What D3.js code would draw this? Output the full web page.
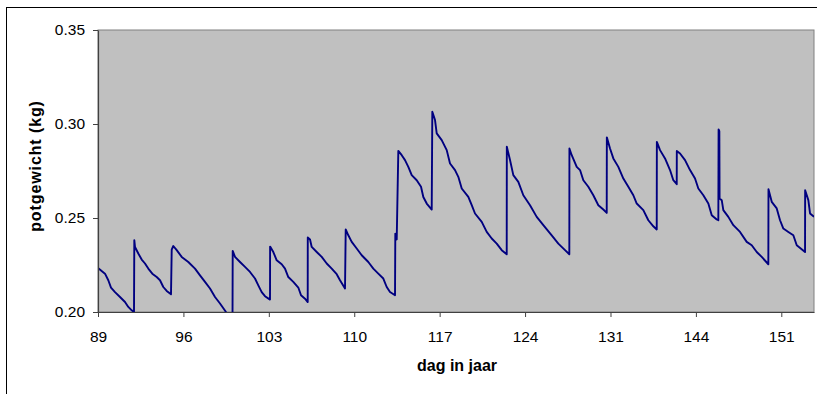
<!DOCTYPE html>
<html>
<head>
<meta charset="utf-8">
<script src="https://cdn.jsdelivr.net/npm/d3@7/dist/d3.min.js"></script>
<style>
  html, body { margin: 0; padding: 0; background: #ffffff; }
  svg { display: block; font-family: "Liberation Sans", Arial, sans-serif; }
</style>
</head>
<body>
<svg id="chart" width="817" height="394"></svg>
<script>
// plotted position along the category axis (arbitrary sample units), and pot weight (kg)
const dayPos = [
  0, 0.561, 0.826, 1.042, 1.363, 1.764, 2.165, 2.430, 2.702, 2.887,
  2.911, 2.967, 3.231, 3.504, 3.769, 4.033, 4.354, 4.707, 4.972, 5.236, 5.509, 5.854,
  5.910, 6.038, 6.311, 6.712, 7.241, 7.778, 8.179, 8.580, 8.981, 9.382, 9.783, 10.264, 10.585, 10.785,
  10.801, 10.986, 11.386, 11.787, 12.188, 12.589, 12.854, 13.126, 13.391, 13.792,
  13.80, 14.057, 14.329, 14.730, 14.995, 15.259, 15.660, 16.061, 16.278, 16.598, 16.815,
  16.82, 17.000, 17.136, 17.537, 17.938, 18.339, 18.740, 19.140, 19.405, 19.806,
  19.862, 20.071, 20.343, 20.744, 21.145, 21.674, 22.075, 22.476, 22.877, 23.150, 23.414, 23.815,
  23.839, 23.951,
  24.080, 24.353, 24.617, 24.882, 25.154, 25.555, 25.900, 26.085, 26.357, 26.758,
  26.806, 27.023, 27.159, 27.560, 27.961, 28.226, 28.627, 28.891, 29.164, 29.693, 29.966, 30.230, 30.768, 31.168, 31.569, 31.970, 32.371, 32.772,
  32.78, 33.036, 33.301, 33.702, 34.103, 34.640, 35.177, 35.707, 36.380, 36.910, 37.447, 37.792,
  37.80, 37.984, 38.385, 38.650, 38.915, 39.315, 39.716, 40.117, 40.518, 40.791,
  40.80, 41.055, 41.320, 41.721, 42.122, 42.523, 42.924, 43.196, 43.725, 44.126, 44.527, 44.800,
  44.81, 45.065, 45.465, 45.866, 46.131, 46.404,
  46.41, 46.669, 47.069, 47.470, 47.871, 48.136, 48.537, 48.938, 49.210, 49.611, 49.739,
  49.76, 49.82, 49.84, 50.012, 50.140, 50.541, 50.942, 51.479, 52.016, 52.417, 52.818, 53.219, 53.749,
  53.76, 54.021, 54.422, 54.687, 54.952, 55.352, 55.753, 56.026, 56.692,
  56.70, 56.956, 57.092, 57.413
];
const potWeight = [
  0.2234, 0.2204, 0.2169, 0.2130, 0.2106, 0.2080, 0.2053, 0.2027, 0.2009, 0.2000,
  0.2382, 0.2346, 0.2311, 0.2279, 0.2258, 0.2231, 0.2204, 0.2186, 0.2169, 0.2133, 0.2112, 0.2094,
  0.2332, 0.2351, 0.2329, 0.2293, 0.2266, 0.2231, 0.2195, 0.2160, 0.2125, 0.2080, 0.2045, 0.2000, 0.1975, 0.1960,
  0.2325, 0.2293, 0.2266, 0.2240, 0.2213, 0.2178, 0.2142, 0.2106, 0.2084, 0.2066,
  0.2348, 0.2319, 0.2275, 0.2254, 0.2231, 0.2186, 0.2160, 0.2130, 0.2089, 0.2071, 0.2053,
  0.2396, 0.2386, 0.2346, 0.2319, 0.2293, 0.2258, 0.2231, 0.2201, 0.2169, 0.2125,
  0.2439, 0.2408, 0.2373, 0.2338, 0.2302, 0.2266, 0.2231, 0.2204, 0.2178, 0.2133, 0.2106, 0.2089,
  0.2417, 0.2386,
  0.2857, 0.2834, 0.2808, 0.2772, 0.2728, 0.2701, 0.2666, 0.2612, 0.2577, 0.2545,
  0.3065, 0.3021, 0.2950, 0.2914, 0.2861, 0.2790, 0.2755, 0.2719, 0.2657, 0.2612, 0.2568, 0.2524, 0.2479, 0.2426, 0.2391, 0.2364, 0.2329, 0.2307,
  0.2879, 0.2808, 0.2728, 0.2692, 0.2621, 0.2568, 0.2506, 0.2462, 0.2408, 0.2364, 0.2329, 0.2307,
  0.2870, 0.2834, 0.2772, 0.2755, 0.2701, 0.2666, 0.2621, 0.2568, 0.2545, 0.2527,
  0.2929, 0.2870, 0.2817, 0.2772, 0.2710, 0.2666, 0.2621, 0.2577, 0.2542, 0.2488, 0.2456, 0.2439,
  0.2905, 0.2861, 0.2817, 0.2755, 0.2701, 0.2680,
  0.2856, 0.2843, 0.2808, 0.2755, 0.2710, 0.2657, 0.2621, 0.2577, 0.2515, 0.2492, 0.2488,
  0.2971, 0.2962, 0.2604, 0.2595, 0.2542, 0.2506, 0.2462, 0.2426, 0.2373, 0.2355, 0.2319, 0.2293, 0.2254,
  0.2653, 0.2586, 0.2551, 0.2488, 0.2444, 0.2426, 0.2408, 0.2355, 0.2319,
  0.2648, 0.2595, 0.2524, 0.2506
];
// category positions of the labelled ticks (same units as dayPos)
const xTickPos = [0, 6.849, 13.697, 20.546, 27.394, 34.243, 41.092, 47.940, 54.789];
const xTickLabels = ["89", "96", "103", "110", "117", "124", "131", "144", "151"];
const yTicks = [0.20, 0.25, 0.30, 0.35];
const xDomain = [0, 57.41];
const yDomain = [0.20, 0.35];

const svg = d3.select("#chart");
const L = 98, R = 814, T = 30, B = 312;

// outer chart frame
svg.append("rect").attr("x", 6.5).attr("y", 7.5).attr("width", 830).attr("height", 420)
  .attr("fill", "#ffffff").attr("stroke", "#000000").attr("stroke-width", 1);

const x = d3.scaleLinear().domain(xDomain).range([L, R]);
const y = d3.scaleLinear().domain(yDomain).range([B, T]);

svg.append("rect").attr("x", L).attr("y", T).attr("width", R - L).attr("height", B - T)
  .attr("fill", "#c0c0c0").attr("stroke", "#808080").attr("stroke-width", 1);

svg.append("clipPath").attr("id", "clip").append("rect")
  .attr("x", L).attr("y", T).attr("width", R - L).attr("height", B - T);

const pts = dayPos.map((d, i) => [d, potWeight[i]]);
const line = d3.line().x(d => x(d[0])).y(d => y(d[1]));
svg.append("path").datum(pts).attr("clip-path", "url(#clip)")
  .attr("d", line).attr("fill", "none").attr("stroke", "#000080")
  .attr("stroke-width", 1.9).attr("stroke-linejoin", "round");

const xAxis = d3.axisBottom(x).tickValues(xTickPos)
  .tickFormat((d, i) => xTickLabels[i]).tickSize(5).tickSizeOuter(0).tickPadding(14);
const gx = svg.append("g").attr("transform", `translate(0,${B})`).call(xAxis);
gx.select(".domain").attr("stroke", "#404040").attr("stroke-width", 1.2);
gx.selectAll(".tick line").attr("stroke", "#404040");
gx.selectAll("text").attr("font-size", 15.5).attr("fill", "#000");

const yAxis = d3.axisLeft(y).tickValues(yTicks).tickFormat(d3.format(".2f"))
  .tickSize(5).tickSizeOuter(0).tickPadding(8);
const gy = svg.append("g").attr("transform", `translate(${L},0)`).call(yAxis);
gy.select(".domain").attr("stroke", "#404040").attr("stroke-width", 1.2);
gy.selectAll(".tick line").attr("stroke", "#404040");
gy.selectAll("text").attr("font-size", 15.5).attr("fill", "#000");
gx.attr("font-family", null); gy.attr("font-family", null);

svg.append("text").attr("x", 457).attr("y", 371).attr("text-anchor", "middle")
  .attr("font-size", 16).attr("font-weight", "bold").text("dag in jaar");
svg.append("text").attr("transform", "translate(41,166) rotate(-90)").attr("text-anchor", "middle")
  .attr("font-size", 16).attr("font-weight", "bold").attr("letter-spacing", 0.9)
  .text("potgewicht (kg)");
</script>
</body>
</html>
